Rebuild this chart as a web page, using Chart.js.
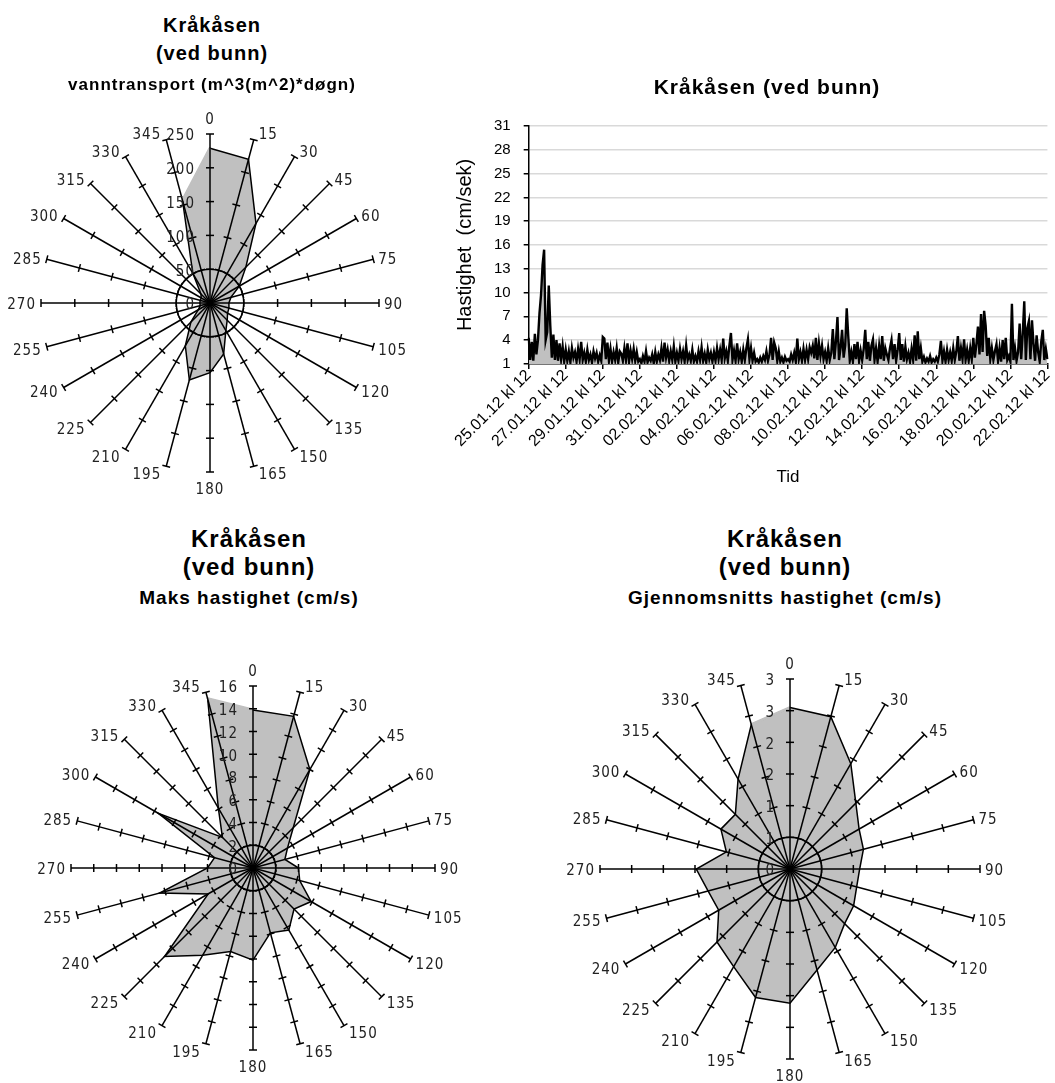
<!DOCTYPE html>
<html>
<head>
<meta charset="utf-8">
<script src="https://cdn.jsdelivr.net/npm/chart.js@4.4.1/dist/chart.umd.min.js"></script>
<style>
  body { margin: 0; background: #fff; }
  #page { position: relative; width: 1055px; height: 1083px; overflow: hidden; background: #fff; }
  canvas { position: absolute; }
  .ttl { position: absolute; transform: translate(-50%, -50%); white-space: nowrap; z-index: 2;
         font-family: 'Liberation Sans', Arial, sans-serif; font-weight: bold; color: #000;
         line-height: 1; letter-spacing: 1px; }
</style>
</head>
<body>
<div id="page">
  <div class="ttl" style="left:212px;top:25px;font-size:20px">Kråkåsen</div>
  <div class="ttl" style="left:212px;top:53px;font-size:20px">(ved bunn)</div>
  <div class="ttl" style="left:212px;top:84px;font-size:17px">vanntransport (m^3(m^2)*døgn)</div>

  <div class="ttl" style="left:767px;top:86px;font-size:21px">Kråkåsen (ved bunn)</div>

  <div class="ttl" style="left:249px;top:539px;font-size:24px">Kråkåsen</div>
  <div class="ttl" style="left:249px;top:567px;font-size:24px">(ved bunn)</div>
  <div class="ttl" style="left:249px;top:597px;font-size:19px">Maks hastighet (cm/s)</div>

  <div class="ttl" style="left:785px;top:539px;font-size:24px">Kråkåsen</div>
  <div class="ttl" style="left:785px;top:567px;font-size:24px">(ved bunn)</div>
  <div class="ttl" style="left:785px;top:597px;font-size:19px">Gjennomsnitts hastighet (cm/s)</div>

  <canvas id="radarVann" width="428" height="428" style="left:-4px;top:89px"></canvas>
  <canvas id="lineSpeed" width="618" height="400" style="left:440px;top:100px"></canvas>
  <canvas id="radarMaks" width="454" height="454" style="left:26px;top:641px"></canvas>
  <canvas id="radarSnitt" width="470" height="470" style="left:555px;top:634px"></canvas>
</div>

<script>
/* ── Data ──────────────────────────────────── */
const directions = ['0','15','30','45','60','75','90','105','120','135','150','165',
                    '180','195','210','225','240','255','270','285','300','315','330','345'];

// vanntransport (m^3(m^2)*døgn) per retning
const vannTransport = [229, 220, 136, 75, 50, 32, 28, 29, 30, 36, 47, 78,
                       103, 118, 73, 40, 20, 15, 15, 15, 15, 19, 51, 157];

// maks hastighet (cm/s) per retning
const maksHastighet = [13.9, 13.8, 10.0, 5.0, 3.5, 2.9, 4.0, 4.25, 5.9, 5.1, 6.3, 5.9,
                       8.1, 7.6, 8.85, 11.0, 4.55, 8.5, 4.0, 3.5, 9.6, 3.8, 6.1, 15.4];

// gjennomsnitts hastighet (cm/s) per retning
const snittHastighet = [2.55, 2.49, 1.92, 1.47, 1.26, 1.2, 1.1, 1.09, 1.16, 1.22, 1.43, 1.65,
                        2.12, 2.1, 1.78, 1.63, 1.3, 1.34, 1.48, 1.04, 1.26, 1.22, 1.64, 2.36];

// x-akse etiketter (hver 2. døgn)
const dateTicks = ['25.01.12 kl 12','27.01.12 kl 12','29.01.12 kl 12','31.01.12 kl 12',
                   '02.02.12 kl 12','04.02.12 kl 12','06.02.12 kl 12','08.02.12 kl 12',
                   '10.02.12 kl 12','12.02.12 kl 12','14.02.12 kl 12','16.02.12 kl 12',
                   '18.02.12 kl 12','20.02.12 kl 12','22.02.12 kl 12'];
const PER_TICK = 24; // målinger mellom to etiketter (2 t intervall)

// hastighet (cm/sek), 2-timers verdier fra 25.01 kl 12
const speed = [
  4.3,1.5,3.8,1.4,4.8,2.2,4.0,7.4,9.7,13.5,15.4,4.0,
  5.0,10.9,5.8,1.8,4.7,1.5,4.0,1.4,3.6,1.6,3.2,1.3,
  2.8,1.4,2.6,1.2,3.0,1.8,2.5,1.3,2.9,1.6,3.8,1.5,
  2.4,1.3,2.8,1.5,2.2,1.2,2.6,1.7,2.4,1.3,2.1,1.4,
  4.4,4.2,1.6,3.7,1.4,2.9,1.3,2.5,1.5,3.0,1.2,2.6,
  2.3,1.4,3.0,1.5,3.6,1.3,2.7,1.6,2.9,1.4,2.5,1.3,
  1.6,1.1,2.0,1.3,2.6,1.2,1.8,1.4,2.2,1.1,2.5,1.3,
  2.2,1.5,3.0,1.3,3.7,1.8,2.8,1.4,2.6,1.5,3.2,1.3,
  2.4,1.4,2.9,1.6,2.6,1.3,3.3,1.5,2.2,1.4,2.8,1.3,
  2.0,1.3,2.6,1.5,3.1,1.4,2.3,1.2,2.8,1.6,2.4,1.3,
  2.5,1.4,3.0,1.6,2.8,1.5,4.2,1.7,2.6,1.4,3.3,4.9,
  1.5,2.7,1.4,3.6,1.6,2.5,1.3,2.8,1.5,3.0,4.1,1.6,
  3.0,1.4,2.4,1.3,1.6,1.2,1.8,1.3,2.0,1.5,2.6,1.4,
  2.2,4.3,1.5,3.7,3.0,1.4,2.6,1.3,1.8,1.2,1.9,1.4,
  1.6,1.3,2.2,1.5,2.4,1.3,4.2,1.6,2.5,1.4,2.9,1.5,
  2.8,1.6,3.1,2.4,3.3,1.7,4.3,1.5,3.6,2.0,3.3,1.6,
  2.5,1.4,3.0,1.5,2.4,5.4,1.6,3.8,6.9,1.5,3.0,5.3,
  1.8,3.3,8.0,4.5,1.4,2.5,1.3,3.5,1.6,3.8,1.4,2.7,
  1.5,2.9,5.3,1.6,3.8,1.4,3.3,4.1,1.5,3.0,1.3,3.3,
  1.6,4.5,1.4,3.0,2.2,1.5,3.0,4.0,1.6,3.5,1.4,2.8,
  4.9,1.5,3.5,1.3,3.2,1.6,2.4,1.3,2.9,1.5,4.6,1.4,
  5.1,1.6,3.0,1.3,1.9,1.2,1.7,1.3,2.0,1.2,1.6,1.3,
  1.8,1.3,2.2,3.9,1.4,2.6,1.3,2.8,1.5,2.5,1.4,3.0,
  1.5,2.6,4.5,1.4,3.0,1.6,4.1,1.5,2.8,1.4,3.0,1.6,
  4.3,1.8,3.5,5.7,2.2,7.3,2.5,7.7,5.8,2.0,4.3,1.6,
  3.0,1.5,2.6,3.5,1.4,3.0,1.3,4.0,1.6,4.3,1.5,2.0,
  1.3,8.6,1.5,3.0,1.4,2.5,6.1,1.6,4.8,8.9,1.5,5.5,
  6.4,1.6,6.5,3.5,1.4,4.6,2.5,1.3,3.8,5.3,1.5,2.9,
  1.6
];

/* ── Felles ────────────────────────────────── */
Chart.defaults.font.family = "'Liberation Sans', Arial, sans-serif";
Chart.defaults.color = '#000';

const FILL = '#c0c0c0';
const NARROW = "'Liberation Sans Narrow', 'DejaVu Sans Condensed', 'Liberation Sans', sans-serif";

/* ── Radar: tick-merker, etiketter, åpen kant ─ */
function radarDecor(fmt) {
  return {
    id: 'radarDecor',
    afterDatasetsDraw(chart) {
      // Excel lukker ikke omrisset mellom siste og første retning
      const pts = chart.getDatasetMeta(0).data;
      const a = pts[pts.length - 1], b = pts[0];
      const ctx = chart.ctx;
      ctx.save();
      ctx.strokeStyle = FILL;
      ctx.lineWidth = 3;
      ctx.beginPath(); ctx.moveTo(a.x, a.y); ctx.lineTo(b.x, b.y); ctx.stroke();
      ctx.restore();
    },
    afterDraw(chart) {
      const r = chart.scales.r;
      const ctx = chart.ctx;
      const n = chart.data.labels.length;
      ctx.save();

      // tick-merker på hver eike
      ctx.strokeStyle = '#000';
      ctx.lineWidth = 1.5;
      for (let i = 0; i < n; i++) {
        const th = r.getIndexAngle(i);
        const px = Math.cos(th), py = Math.sin(th);
        r.ticks.forEach(t => {
          if (t.value <= r.min) return;
          const p = r.getPointPositionForValue(i, t.value);
          ctx.beginPath();
          ctx.moveTo(p.x - px * 4, p.y - py * 4);
          ctx.lineTo(p.x + px * 4, p.y + py * 4);
          ctx.stroke();
        });
      }

      ctx.font = '15px ' + NARROW;
      ctx.fillStyle = '#222';
      if ('letterSpacing' in ctx) ctx.letterSpacing = '1px';

      // verdietiketter til venstre for 0-eika
      ctx.textAlign = 'right';
      ctx.textBaseline = 'middle';
      r.ticks.forEach(t => {
        const p = r.getPointPositionForValue(0, t.value);
        ctx.fillText(fmt(t.value), p.x - 15, p.y + 2.5);
      });

      // retningsetiketter
      for (let i = 0; i < n; i++) {
        const th = r.getIndexAngle(i);
        const s = Math.sin(th), c = Math.cos(th);
        const p = r.getPointPositionForValue(i, r.max);
        let x = p.x, y = p.y;
        if (Math.abs(s) < 0.1) {
          ctx.textAlign = 'center';
          y += c > 0 ? -14 : 18;
        } else {
          ctx.textAlign = s > 0 ? 'left' : 'right';
          x += s > 0 ? 5 : -5;
          y += -7 * c + 2.5;
        }
        ctx.fillText(chart.data.labels[i], x, y);
      }
      ctx.restore();
    }
  };
}

function makeRadar(id, values, max, step, fmt) {
  return new Chart(document.getElementById(id), {
    type: 'radar',
    data: {
      labels: directions,
      datasets: [{ data: values, backgroundColor: FILL, borderColor: '#000', borderWidth: 1.5,
                   pointRadius: 0, fill: true }]
    },
    options: {
      responsive: false,
      animation: false,
      layout: { padding: 45 },
      plugins: { legend: { display: false }, tooltip: { enabled: false } },
      scales: {
        r: {
          min: 0, max,
          ticks: { stepSize: step, display: false },
          pointLabels: { display: false },
          angleLines: { color: '#000', lineWidth: 1.5 },
          // z > 0: eiker og ring tegnes over fyllet
          grid: { z: 1, circular: true, lineWidth: 1.5,
                  color: c => c.index === 1 ? '#000' : 'rgba(0,0,0,0)' }
        }
      }
    },
    plugins: [radarDecor(fmt)]
  });
}

makeRadar('radarVann',  vannTransport, 250, 50, v => String(v));
makeRadar('radarMaks',  maksHastighet, 16, 2,   v => String(v));
makeRadar('radarSnitt', snittHastighet, 3, 0.5, v => String(Math.round(v)));

/* ── Linjediagram ──────────────────────────── */
new Chart(document.getElementById('lineSpeed'), {
  type: 'line',
  data: {
    labels: speed.map((_, i) => i),
    datasets: [{ data: speed, borderColor: '#000', borderWidth: 2.4, backgroundColor: FILL,
                 fill: 'start', pointRadius: 0, tension: 0 }]
  },
  options: {
    responsive: false,
    animation: false,
    layout: { padding: { top: 26, right: 3, bottom: 12, left: 9 } },
    plugins: { legend: { display: false }, tooltip: { enabled: false } },
    scales: {
      x: {
        ticks: {
          autoSkip: false, minRotation: 45, maxRotation: 45, padding: -3,
          font: { size: 16 }, color: '#000',
          callback: (v, i) => i % PER_TICK === 0 ? dateTicks[i / PER_TICK] : null
        },
        grid: { drawOnChartArea: false, color: '#000', tickLength: 5, lineWidth: 1.5 },
        border: { color: '#000', width: 1.5 },
        title: { display: true, text: 'Tid', font: { size: 17 }, color: '#000',
                 padding: { top: 20, bottom: 0 } }
      },
      y: {
        min: 1, max: 31,
        ticks: { stepSize: 3, font: { size: 15 }, color: '#000', padding: 13 },
        grid: { color: '#d9d9d9', lineWidth: 1.5, tickColor: '#000', tickLength: 5 },
        border: { color: '#000', width: 1.5 },
        title: { display: true, text: 'Hastighet  (cm/sek)', font: { size: 20 }, color: '#000' }
      }
    }
  }
});
</script>
</body>
</html>
